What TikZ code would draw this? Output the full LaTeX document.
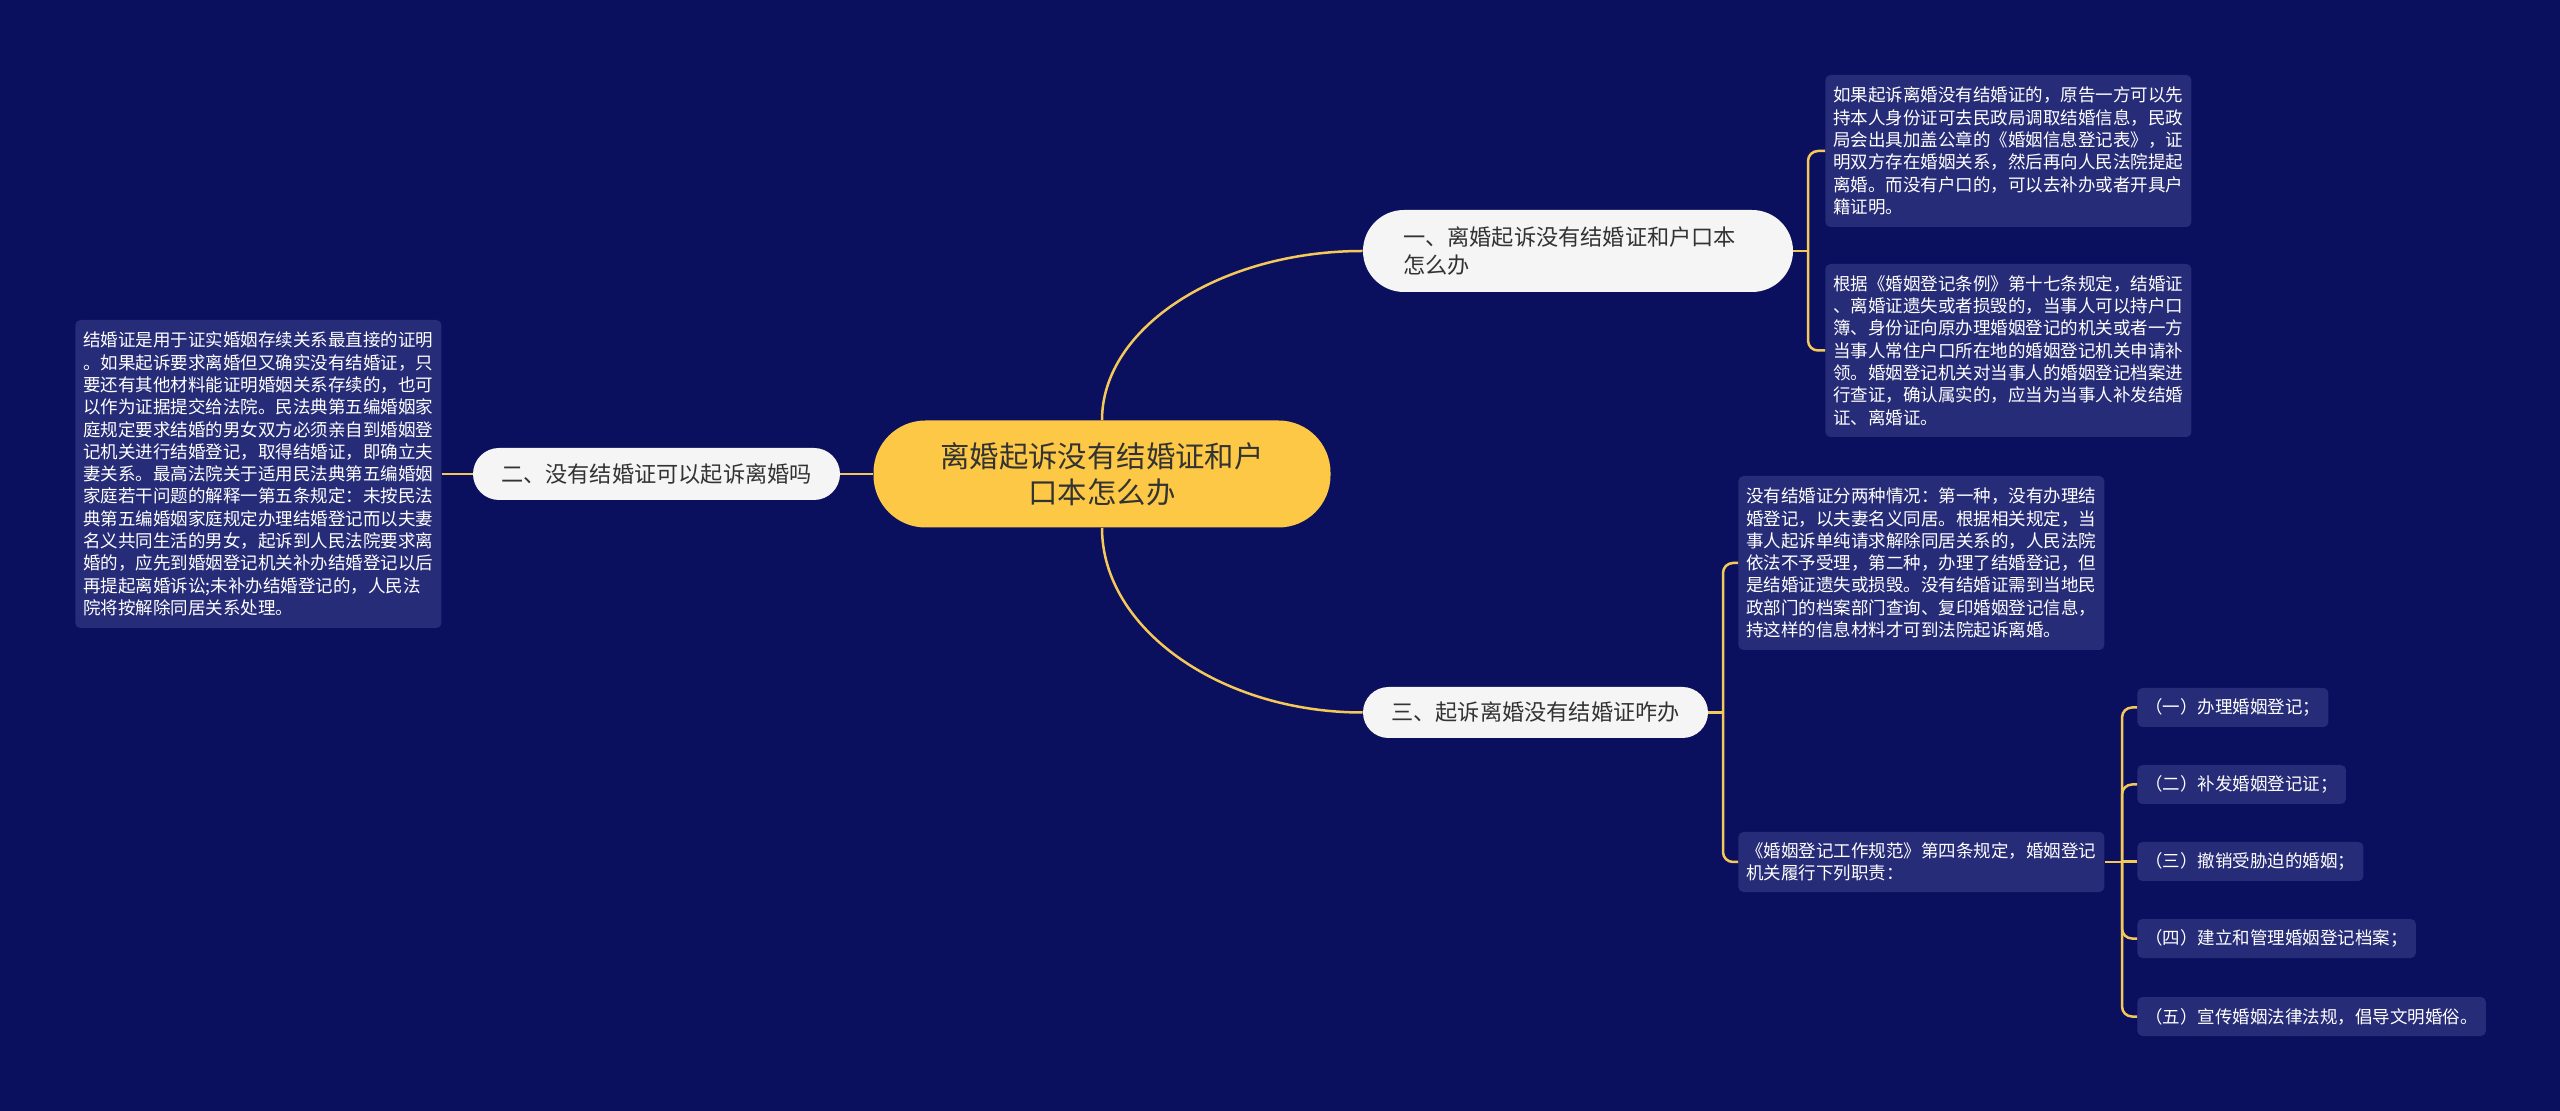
\documentclass[tikz,border=0pt]{standalone}
\usepackage{fontspec}
\setmainfont{Noto Sans CJK SC}
\usepackage{tikz}
\usetikzlibrary{calc}
\definecolor{bgnavy}{HTML}{0B105E}
\definecolor{leafblue}{HTML}{272C78}
\definecolor{rootyellow}{HTML}{FCC845}
\definecolor{branchwhite}{HTML}{F5F5F5}
\definecolor{textdark}{HTML}{333333}
\definecolor{linkgold}{HTML}{F5C85A}
\tikzset{
	rootnode/.style={fill=rootyellow, rounded corners=26pt, minimum width=228.5pt, minimum height=53.5pt, align=center, text=textdark, font=\fontsize{14.7}{18}\selectfont},
	branch/.style={fill=branchwhite, text=textdark, inner sep=0pt, font=\fontsize{11.1}{14}\selectfont},
	leaf/.style={fill=leafblue, rounded corners=2.5pt, text=white, inner xsep=4pt, inner ysep=0pt, text width=175pt, align=left, anchor=west, font=\fontsize{8.75}{11.15}\selectfont},
	subleaf/.style={fill=leafblue, rounded corners=2.5pt, text=white, inner xsep=4pt, inner ysep=0pt, minimum height=19.5pt, anchor=west, font=\fontsize{8.75}{11.15}\selectfont},
	link/.style={draw=linkgold, line width=1.25pt}
}

\begin{document}
\begin{tikzpicture}[x=0.5pt, y=-0.5pt]
		%%%%% START %%%%%
		
		\fill[bgnavy] (0, 0) rectangle (2560, 1111);
		\useasboundingbox (0, 0) rectangle (2560, 1111);
		
		\node[rootnode] (root) at (1102, 474) {离婚起诉没有结婚证和户\\口本怎么办};
		
		\node[branch, rounded corners=20.5pt, minimum width=215pt, minimum height=41pt, text width=175pt, align=left] (b1) at (1578, 251) {一、离婚起诉没有结婚证和户口本\\怎么办};
		\node[branch, rounded corners=13pt, minimum width=183.5pt, minimum height=26pt] (b2) at (656.5, 474) {二、没有结婚证可以起诉离婚吗};
		\node[branch, rounded corners=12.75pt, minimum width=172.5pt, minimum height=25.5pt] (b3) at (1535.5, 712.5) {三、起诉离婚没有结婚证咋办};
		
		\node[leaf, minimum height=76pt] (l1a) at (1825, 151) {如果起诉离婚没有结婚证的，原告一方可以先\\持本人身份证可去民政局调取结婚信息，民政\\局会出具加盖公章的《婚姻信息登记表》，证\\明双方存在婚姻关系，然后再向人民法院提起\\离婚。而没有户口的，可以去补办或者开具户\\籍证明。};
		\node[leaf, minimum height=86.5pt] (l1b) at (1825, 350.5) {根据《婚姻登记条例》第十七条规定，结婚证\\、离婚证遗失或者损毁的，当事人可以持户口\\簿、身份证向原办理婚姻登记的机关或者一方\\当事人常住户口所在地的婚姻登记机关申请补\\领。婚姻登记机关对当事人的婚姻登记档案进\\行查证，确认属实的，应当为当事人补发结婚\\证、离婚证。};
		
		\node[leaf, minimum height=154pt] (l2) at (75, 474) {结婚证是用于证实婚姻存续关系最直接的证明\\。如果起诉要求离婚但又确实没有结婚证，只\\要还有其他材料能证明婚姻关系存续的，也可\\以作为证据提交给法院。民法典第五编婚姻家\\庭规定要求结婚的男女双方必须亲自到婚姻登\\记机关进行结婚登记，取得结婚证，即确立夫\\妻关系。最高法院关于适用民法典第五编婚姻\\家庭若干问题的解释一第五条规定：未按民法\\典第五编婚姻家庭规定办理结婚登记而以夫妻\\名义共同生活的男女，起诉到人民法院要求离\\婚的，应先到婚姻登记机关补办结婚登记以后\\再提起离婚诉讼;未补办结婚登记的，人民法\\院将按解除同居关系处理。};
		
		\node[leaf, minimum height=87pt] (l3a) at (1738, 563) {没有结婚证分两种情况：第一种，没有办理结\\婚登记，以夫妻名义同居。根据相关规定，当\\事人起诉单纯请求解除同居关系的，人民法院\\依法不予受理，第二种，办理了结婚登记，但\\是结婚证遗失或损毁。没有结婚证需到当地民\\政部门的档案部门查询、复印婚姻登记信息，\\持这样的信息材料才可到法院起诉离婚。};
		\node[leaf, minimum height=30pt] (l3b) at (1738, 862) {《婚姻登记工作规范》第四条规定，婚姻登记\\机关履行下列职责：};
		
		\node[subleaf] (s1) at (2137, 707.5) {（一）办理婚姻登记；};
		\node[subleaf] (s2) at (2137, 784.5) {（二）补发婚姻登记证；};
		\node[subleaf] (s3) at (2137, 861.5) {（三）撤销受胁迫的婚姻；};
		\node[subleaf] (s4) at (2137, 938.5) {（四）建立和管理婚姻登记档案；};
		\node[subleaf] (s5) at (2137, 1016.5) {（五）宣传婚姻法律法规，倡导文明婚俗。};
		
		\coordinate (j1) at (1808, 251);
		\coordinate (j3) at (1723, 712.5);
		\coordinate (j4) at (2122, 862);
		
		\draw[link] (root.north) .. controls (1102, 327) and (1221, 251) .. (b1.west);
		\draw[link] (root.south) .. controls (1102, 629) and (1221, 712.5) .. (b3.west);
		\draw[link] (root.west) -- (b2.east);
		\draw[link] (b2.west) -- (l2.east);
		
		\draw[link] (b1.east) -- (j1);
		\draw[link, rounded corners=5pt] (l1a.west) -| (j1) |- (l1b.west);
		
		\draw[link] (b3.east) -- (j3);
		\draw[link, rounded corners=5pt] (l3a.west) -| (j3) |- (l3b.west);
		
		\draw[link] (l3b.east) -- (j4);
		\draw[link, rounded corners=5pt] (s1.west) -| (j4) |- (s5.west);
		\draw[link, rounded corners=5pt] (s2.west) -| (j4);
		\draw[link, rounded corners=5pt] (s4.west) -| (j4);
		\draw[link] (s3.west) -- (j4 |- s3.west);
		
		%%%%% END %%%%%
	\end{tikzpicture}
\end{document}
